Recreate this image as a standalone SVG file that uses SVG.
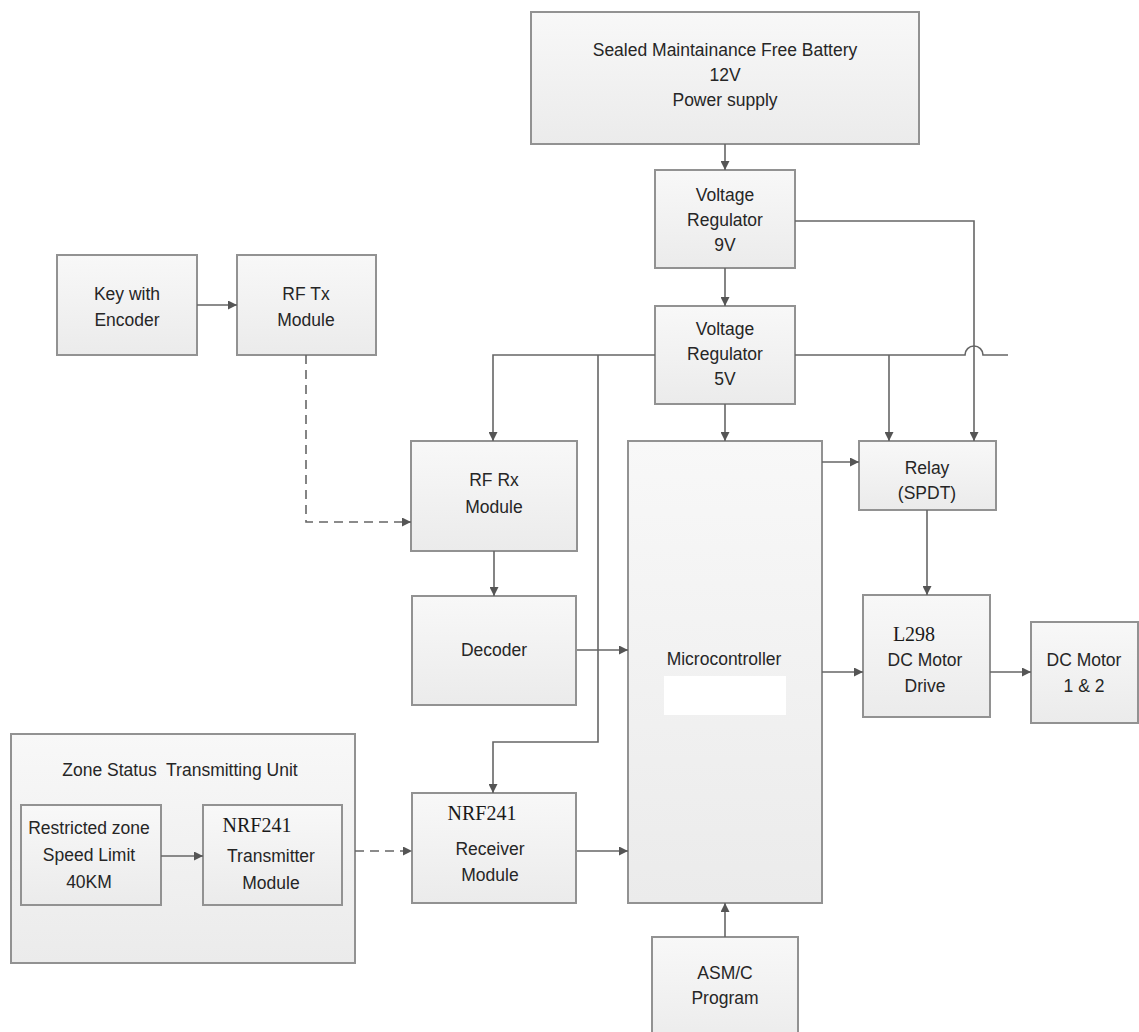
<svg xmlns="http://www.w3.org/2000/svg" width="1139" height="1032" viewBox="0 0 1139 1032">
<defs>
<linearGradient id="g" x1="0" y1="0" x2="0" y2="1">
<stop offset="0" stop-color="#f8f8f8"/>
<stop offset="1" stop-color="#ebebeb"/>
</linearGradient>
<marker id="ah" viewBox="0 0 10 10" refX="10" refY="5" markerWidth="9" markerHeight="9" markerUnits="userSpaceOnUse" orient="auto">
<path d="M0,0 L10,5 L0,10 z" fill="#555"/>
</marker>
</defs>
<style>
.box{fill:url(#g);stroke:#929292;stroke-width:2}
.t{font-family:"Liberation Sans",Arial,sans-serif;font-size:17.5px;fill:#262626;text-anchor:middle}
.s{font-family:"Liberation Serif","Times New Roman",serif;font-size:20px;fill:#1a1a1a;text-anchor:middle}
.c{fill:none;stroke:#666;stroke-width:1.6}
.a{marker-end:url(#ah)}
.d{stroke-dasharray:9,6}
</style>
<rect width="1139" height="1032" fill="#ffffff"/>

<g id="battery">
<rect class="box" x="531" y="12" width="388" height="132"/>
<text class="t" x="725" y="56">Sealed Maintainance Free Battery</text>
<text class="t" x="725" y="81">12V</text>
<text class="t" x="725" y="106">Power supply</text>
</g>
<g id="vr9">
<rect class="box" x="655" y="170" width="140" height="98"/>
<text class="t" x="725" y="201">Voltage</text>
<text class="t" x="725" y="226">Regulator</text>
<text class="t" x="725" y="251">9V</text>
</g>
<g id="vr5">
<rect class="box" x="655" y="306" width="140" height="98"/>
<text class="t" x="725" y="335">Voltage</text>
<text class="t" x="725" y="360">Regulator</text>
<text class="t" x="725" y="385">5V</text>
</g>
<g id="key">
<rect class="box" x="57" y="255" width="140" height="100"/>
<text class="t" x="127" y="300">Key with</text>
<text class="t" x="127" y="326">Encoder</text>
</g>
<g id="rftx">
<rect class="box" x="237" y="255" width="139" height="100"/>
<text class="t" x="306" y="300">RF Tx</text>
<text class="t" x="306" y="326">Module</text>
</g>
<g id="rfrx">
<rect class="box" x="411" y="441" width="166" height="110"/>
<text class="t" x="494" y="486">RF Rx</text>
<text class="t" x="494" y="513">Module</text>
</g>
<g id="decoder">
<rect class="box" x="412" y="596" width="164" height="109"/>
<text class="t" x="494" y="656">Decoder</text>
</g>
<g id="micro">
<rect class="box" x="628" y="441" width="194" height="462"/>
<text class="t" x="724" y="665">Microcontroller</text>
<rect x="664" y="676" width="122" height="39" fill="#ffffff"/>
</g>
<g id="relay">
<rect class="box" x="859" y="441" width="137" height="69"/>
<text class="t" x="927" y="474">Relay</text>
<text class="t" x="927" y="499">(SPDT)</text>
</g>
<g id="l298">
<rect class="box" x="863" y="595" width="127" height="122"/>
<text class="s" x="914" y="641">L298</text>
<text class="t" x="925" y="666">DC Motor</text>
<text class="t" x="925" y="692">Drive</text>
</g>
<g id="dcmotor">
<rect class="box" x="1031" y="622" width="107" height="101"/>
<text class="t" x="1084" y="666">DC Motor</text>
<text class="t" x="1084" y="692">1 &amp; 2</text>
</g>
<g id="zone">
<rect class="box" x="11" y="734" width="344" height="229"/>
<text class="t" x="180" y="776" xml:space="preserve">Zone Status  Transmitting Unit</text>
</g>
<g id="restricted">
<rect class="box" x="21" y="805" width="140" height="100"/>
<text class="t" x="89" y="834">Restricted zone</text>
<text class="t" x="89" y="861">Speed Limit</text>
<text class="t" x="89" y="888">40KM</text>
</g>
<g id="nrftx">
<rect class="box" x="203" y="805" width="139" height="100"/>
<text class="s" x="257" y="832">NRF241</text>
<text class="t" x="271" y="862">Transmitter</text>
<text class="t" x="271" y="889">Module</text>
</g>
<g id="nrfrx">
<rect class="box" x="412" y="793" width="164" height="110"/>
<text class="s" x="482" y="820">NRF241</text>
<text class="t" x="490" y="855">Receiver</text>
<text class="t" x="490" y="881">Module</text>
</g>
<g id="asm">
<rect class="box" x="652" y="937" width="146" height="110"/>
<text class="t" x="725" y="979">ASM/C</text>
<text class="t" x="725" y="1004">Program</text>
</g>

<g id="connectors">
<path class="c a" d="M725,144 V170"/>
<path class="c a" d="M725,268 V306"/>
<path class="c a" d="M725,404 V441"/>
<path class="c a" d="M795,221 H974 V441"/>
<path class="c a" d="M655,355 H493 V441"/>
<path class="c" d="M795,355 H965 A9,9 0 0 1 983,355 H1008"/>
<path class="c a" d="M889,355 V441"/>
<path class="c a" d="M598,355 V742 H493 V793"/>
<path class="c a" d="M197,305 H237"/>
<path class="c a d" d="M306,355 V522 H411"/>
<path class="c a" d="M494,551 V596"/>
<path class="c a" d="M577,650 H628"/>
<path class="c a" d="M577,851 H628"/>
<path class="c a" d="M822,462 H859"/>
<path class="c a" d="M927,510 V595"/>
<path class="c a" d="M822,672 H863"/>
<path class="c a" d="M990,672 H1031"/>
<path class="c a" d="M161,856 H203"/>
<path class="c a d" d="M355,851 H412"/>
<path class="c a" d="M725,937 V903"/>
</g>
</svg>
